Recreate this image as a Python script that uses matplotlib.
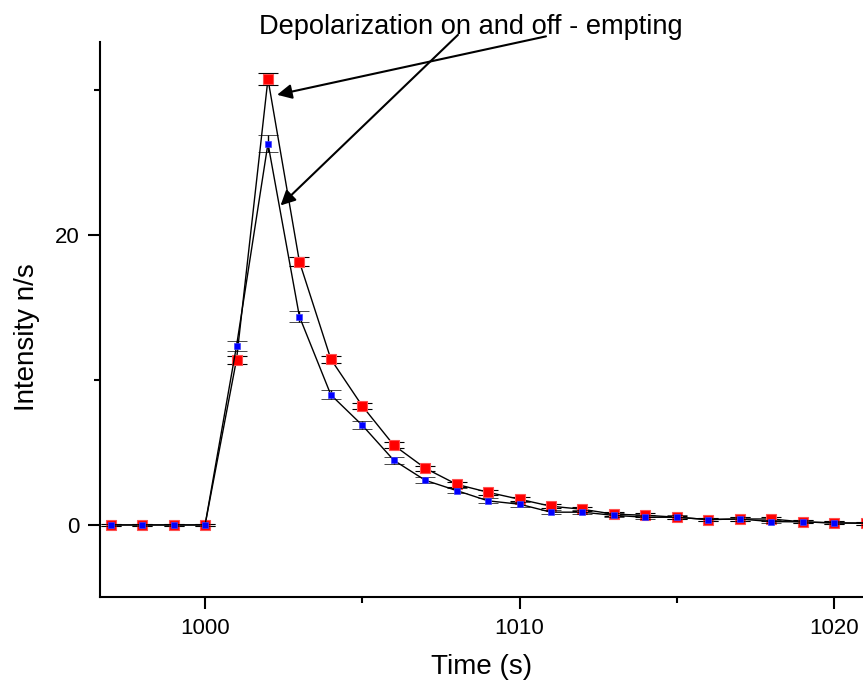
import matplotlib
matplotlib.use('Agg')
import matplotlib.pyplot as plt
from matplotlib.ticker import MultipleLocator

plt.rcParams['font.family'] = ['Liberation Sans', 'DejaVu Sans']

# data
time_s = list(range(997, 1022))
red_vals = [0, 0, 0, 0, 11.4, 30.75, 18.15, 11.43, 8.2, 5.5, 3.91, 2.8, 2.25, 1.77,
            1.29, 1.08, 0.74, 0.67, 0.53, 0.37, 0.41, 0.41, 0.21, 0.14, 0.12]
red_err = [0.05, 0.05, 0.05, 0.05, 0.28, 0.41, 0.32, 0.25, 0.22, 0.2, 0.18, 0.17, 0.16, 0.15,
           0.15, 0.14, 0.13, 0.13, 0.12, 0.12, 0.12, 0.12, 0.11, 0.11, 0.1]
blue_vals = [0, 0, 0, 0, 12.34, 26.3, 14.37, 8.97, 6.87, 4.46, 3.08, 2.37, 1.66, 1.43,
             0.88, 0.88, 0.66, 0.53, 0.53, 0.37, 0.41, 0.23, 0.21, 0.14, 0.12]
blue_err = [0.05, 0.05, 0.05, 0.05, 0.37, 0.56, 0.4, 0.32, 0.28, 0.25, 0.22, 0.2, 0.18, 0.17,
            0.15, 0.15, 0.14, 0.13, 0.13, 0.12, 0.12, 0.12, 0.11, 0.11, 0.1]

title_text = 'Depolarization on and off - empting'
# arrows: (tail x, tail y, tip x, tip y) in data units
arrows = [(1010.84, 33.69, 1002.29, 29.66),
          (1008.04, 33.79, 1002.40, 22.03)]

fig = plt.figure(figsize=(8.63, 6.83), dpi=100)
ax = fig.add_axes([0.1159, 0.1259, 0.8841, 0.8126])

ax.errorbar(time_s, red_vals, yerr=red_err, color='black', lw=1.0,
            marker='s', ms=7.5, mfc='#ff0000', mec='#ff5050', mew=0.8,
            ecolor='black', elinewidth=1.0, capsize=7, capthick=1.0, zorder=3)
ax.errorbar(time_s, blue_vals, yerr=blue_err, color='black', lw=1.0,
            marker='s', ms=4.5, mfc='#0000ff', mec='#4040ff', mew=0.5,
            ecolor='black', elinewidth=1.0, capsize=7, capthick=1.0, zorder=4)

ax.set_xlim(996.66, 1020.92)
ax.set_ylim(-4.97, 33.3)

ax.xaxis.set_major_locator(MultipleLocator(10))
ax.xaxis.set_minor_locator(MultipleLocator(5))
ax.yaxis.set_major_locator(MultipleLocator(20))
ax.yaxis.set_minor_locator(MultipleLocator(10))

for side in ['top', 'right']:
    ax.spines[side].set_visible(False)
for side in ['left', 'bottom']:
    ax.spines[side].set_linewidth(1.5)

ax.tick_params(which='major', direction='out', length=8.5, width=1.5, labelsize=16, pad=6.5)
ax.tick_params(which='minor', direction='out', length=4, width=1.5)

ax.set_xlabel('Time (s)', fontsize=20, labelpad=11)
ax.set_ylabel('Intensity n/s', fontsize=20)
ax.yaxis.set_label_coords(-0.079, 0.468)

fig.text(0.545, 0.96, title_text, fontsize=19.6, ha='center', va='center')

for x0, y0, x1, y1 in arrows:
    ax.annotate('', xy=(x1, y1), xytext=(x0, y0), xycoords='data', textcoords='data',
                annotation_clip=False,
                arrowprops=dict(arrowstyle='-|>', color='black', lw=1.5,
                                mutation_scale=22, shrinkA=0, shrinkB=0))

fig.savefig('out.png', dpi=100)
